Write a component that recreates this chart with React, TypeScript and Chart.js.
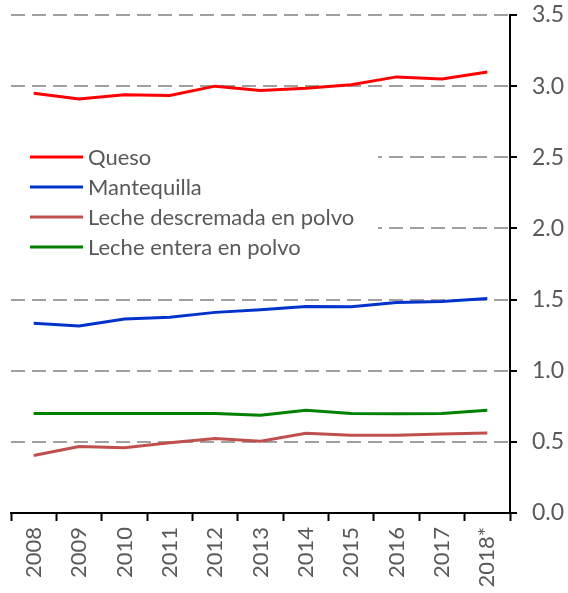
import React, { useEffect, useRef } from 'react';
import { Chart, registerables } from 'chart.js';

Chart.register(...registerables);

const years = ['2008', '2009', '2010', '2011', '2012', '2013', '2014', '2015', '2016', '2017', '2018*'];
const queso = [2.95, 2.91, 2.94, 2.935, 3.0, 2.97, 2.985, 3.01, 3.065, 3.05, 3.1];
const mantequilla = [1.333, 1.315, 1.364, 1.375, 1.41, 1.429, 1.452, 1.45, 1.48, 1.487, 1.508];
const lecheDescremada = [0.404, 0.467, 0.458, 0.493, 0.523, 0.504, 0.56, 0.546, 0.546, 0.556, 0.563];
const lecheEntera = [0.7, 0.7, 0.7, 0.7, 0.7, 0.687, 0.722, 0.7, 0.697, 0.7, 0.722];
const yMin = 0;
const yMax = 3.5;
const yStep = 0.5;

const seriesNames = ['Queso', 'Mantequilla', 'Leche descremada en polvo', 'Leche entera en polvo'];
const seriesColors = ['#FF0000', '#0033CC', '#C0504D', '#008000'];

const FONT = 'Lato, "Open Sans", sans-serif';
const TEXT = '#595959';

const insetLegend = {
  id: 'insetLegend',
  afterDatasetsDraw(chart: any) {
    const ctx = chart.ctx;
    ctx.save();
    ctx.fillStyle = '#ffffff';
    ctx.fillRect(8, 140, 370, 120);
    ctx.font = `22px ${FONT}`;
    ctx.textBaseline = 'middle';
    ctx.textAlign = 'left';
    chart.data.datasets.forEach((ds: any, i: number) => {
      const y = 157 + i * 30;
      ctx.strokeStyle = ds.borderColor;
      ctx.lineWidth = 3;
      ctx.beginPath();
      ctx.moveTo(30, y);
      ctx.lineTo(83, y);
      ctx.stroke();
      ctx.fillStyle = TEXT;
      ctx.fillText(ds.label, 88, y + 1);
    });
    ctx.restore();
  },
};

export default function App() {
  const canvasRef = useRef<HTMLCanvasElement | null>(null);

  useEffect(() => {
    if (!canvasRef.current) return;
    const values = [queso, mantequilla, lecheDescremada, lecheEntera];
    const chart = new Chart(canvasRef.current, {
      type: 'line',
      data: {
        labels: years,
        datasets: values.map((v, i) => ({
          label: seriesNames[i],
          data: v,
          borderColor: seriesColors[i],
          backgroundColor: seriesColors[i],
          borderWidth: 3,
          pointRadius: 0,
          tension: 0,
          fill: false,
        })),
      },
      options: {
        animation: false,
        responsive: false,
        devicePixelRatio: 1,
        layout: { padding: { left: 11, top: 15, right: 0, bottom: 0 } },
        plugins: {
          legend: { display: false },
          tooltip: { enabled: false },
        },
        scales: {
          x: {
            type: 'category',
            offset: true,
            grid: {
              offset: true,
              drawOnChartArea: false,
              drawTicks: true,
              tickLength: 8,
              tickColor: '#000',
              tickWidth: 2,
              color: '#000',
            },
            border: { color: '#000', width: 2 },
            ticks: {
              minRotation: 90,
              maxRotation: 90,
              autoSkip: false,
              padding: 6,
              color: TEXT,
              font: { family: FONT, size: 22 },
            },
            afterFit: (s: any) => {
              s.height = 80;
              s.paddingLeft = 0;
              s.paddingRight = 0;
            },
          },
          y: {
            position: 'right',
            min: yMin,
            max: yMax,
            grid: {
              color: '#A0A0A0',
              lineWidth: 2,
              tickColor: '#000',
              tickWidth: 2,
              tickLength: 7,
              tickBorderDash: [],
            },
            border: { color: '#000', width: 2, dash: [14, 7] },
            ticks: {
              stepSize: yStep,
              padding: 15,
              color: TEXT,
              font: { family: FONT, size: 23 },
              callback: (v: any) => Number(v).toFixed(1),
            },
            afterFit: (s: any) => {
              s.width = 58;
              s.paddingTop = 0;
              s.paddingBottom = 0;
            },
          },
        },
      },
      plugins: [insetLegend],
    } as any);
    return () => chart.destroy();
  }, []);

  return (
    <div style={{ position: 'absolute', left: 0, top: 0, width: 568, height: 593, background: '#fff' }}>
      <canvas ref={canvasRef} width={568} height={593} style={{ display: 'block' }} />
    </div>
  );
}
